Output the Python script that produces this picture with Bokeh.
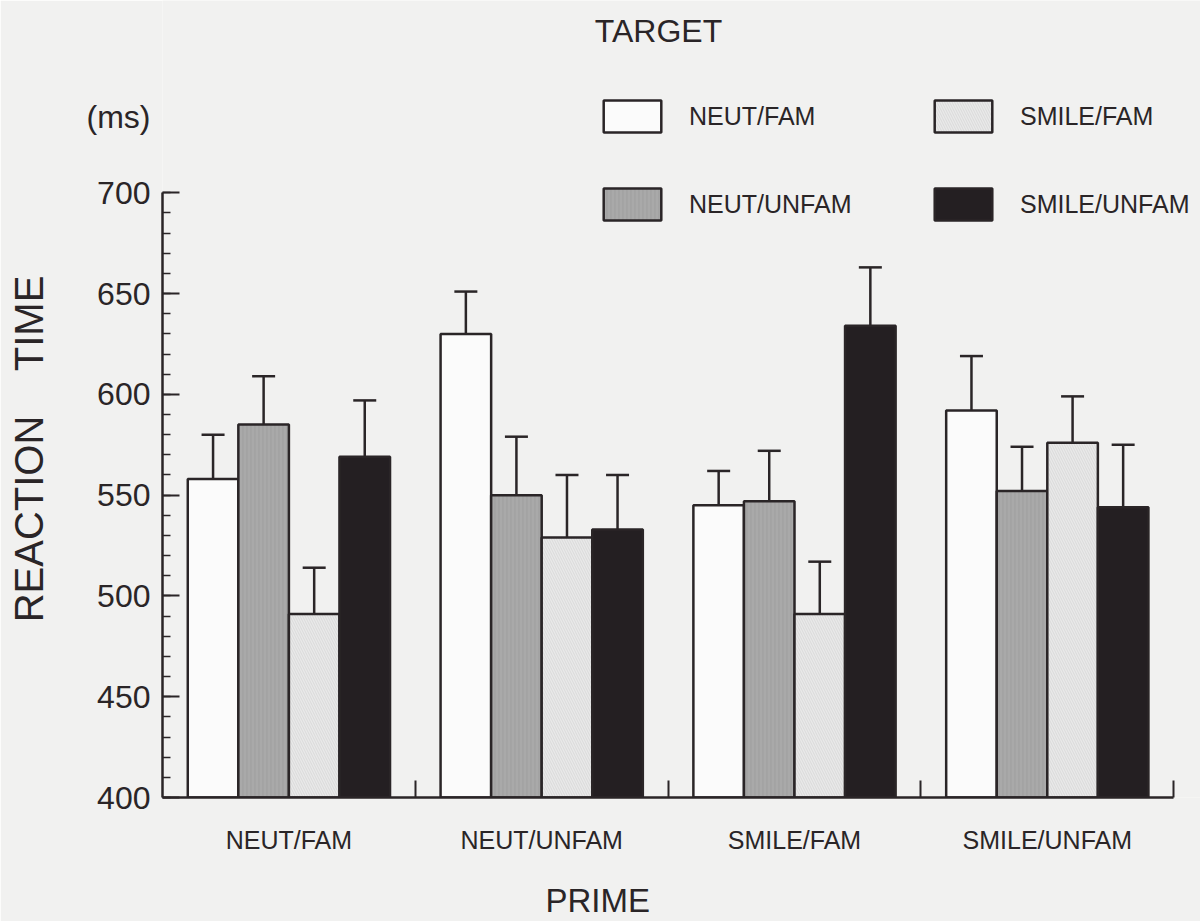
from bokeh.plotting import figure
from bokeh.models import (Range1d, FixedTicker, SingleIntervalTicker, Label, Legend,
                          LegendItem, Whisker, TeeHead, ColumnDataSource, LinearAxis,
                          CustomJSTickFormatter, Title)
from bokeh.embed import file_html
from bokeh.resources import INLINE

# ---- data ----
primes = ["NEUT/FAM", "NEUT/UNFAM", "SMILE/FAM", "SMILE/UNFAM"]
targets = ["NEUT/FAM", "NEUT/UNFAM", "SMILE/FAM", "SMILE/UNFAM"]
neut_fam = [558, 630, 545, 592]
neut_unfam = [585, 550, 547, 552]
smile_fam = [491, 529, 491, 576]
smile_unfam = [569, 533, 634, 544]
neut_fam_se = [22, 21, 17, 27]
neut_unfam_se = [24, 29, 25, 22]
smile_fam_se = [23, 31, 26, 23]
smile_unfam_se = [28, 27, 29, 31]
y_ticks = [400, 450, 500, 550, 600, 650, 700]
unit_label = "(ms)"

FONT = "Liberation Sans"
INK = "#2a2527"
PAPER = "#f1f1f0"
NBSP = "\u00a0"

p = figure(width=1200, height=921,
           x_range=Range1d(0.5, 4.606), y_range=Range1d(400, 795.4),
           output_backend="svg", toolbar_location=None,
           min_border_left=162, min_border_right=0, min_border_top=0,
           min_border_bottom=124)
p.background_fill_color = PAPER
p.border_fill_color = PAPER
p.outline_line_color = None
p.xgrid.visible = False
p.ygrid.visible = False

series = [
    (neut_fam, neut_fam_se, dict(fill_color="#fbfbfb")),
    (neut_unfam, neut_unfam_se, dict(fill_color="#a9a9a9", hatch_pattern="|",
                                     hatch_color="#9a9a9a", hatch_scale=4,
                                     hatch_weight=1.2, hatch_alpha=0.6)),
    (smile_fam, smile_fam_se, dict(fill_color="#e9e9e9", hatch_pattern="\\",
                                   hatch_color="#c4c4c4", hatch_scale=5,
                                   hatch_weight=0.6, hatch_alpha=0.7)),
    (smile_unfam, smile_unfam_se, dict(fill_color="#241f22")),
]
offsets = [-0.3, -0.1, 0.1, 0.3]
width = 0.2

renderers = []
wx, wlo, whi = [], [], []
for (vals, se, style), off in zip(series, offsets):
    xs = [i + 1 + off for i in range(len(primes))]
    src = ColumnDataSource(dict(x=xs, top=vals))
    r = p.vbar(x="x", top="top", bottom=400, width=width, source=src,
               line_color=INK, line_width=2.5, **style)
    renderers.append(r)
    wx += xs
    wlo += vals
    whi += [v + e for v, e in zip(vals, se)]

wsrc = ColumnDataSource(dict(x=wx, lower=wlo, upper=whi))
p.add_layout(Whisker(source=wsrc, base="x", lower="lower", upper="upper",
                     line_color=INK, line_width=2.5,
                     upper_head=TeeHead(size=23, line_color=INK, line_width=2.5),
                     lower_head=None))

# ---- x axis ----
xa = p.xaxis[0]
xa.ticker = FixedTicker(ticks=[1, 2, 3, 4], minor_ticks=[1.5, 2.5, 3.5, 4.5])
xa.bounds = (0.5, 4.5)
xa.major_label_overrides = {i + 1: name for i, name in enumerate(primes)}
xa.major_tick_in = 0
xa.major_tick_out = 0
xa.minor_tick_in = 17
xa.minor_tick_out = 0
xa.minor_tick_line_color = INK
xa.minor_tick_line_width = 2
xa.axis_line_color = INK
xa.axis_line_width = 2.5
xa.major_label_text_font = FONT
xa.major_label_text_font_size = "25px"
xa.major_label_text_color = INK
xa.major_label_standoff = 28

# empty x axis used as a spacer before the "PRIME" title
xc = LinearAxis(ticker=FixedTicker(ticks=[]),
                axis_line_color=None, major_tick_line_color=None,
                minor_tick_line_color=None, major_tick_in=0, major_tick_out=0,
                minor_tick_in=0, minor_tick_out=0, major_label_standoff=0,
                axis_label=NBSP, axis_label_standoff=16,
                axis_label_text_font_size="2px", axis_label_text_color=PAPER)
p.add_layout(xc, "below")
p.add_layout(Title(text="PRIME", align="left", offset=383, vertical_align="bottom",
                   standoff=4, text_font=FONT, text_font_size="33px",
                   text_color=INK, text_font_style="normal"), "below")

# ---- y axis: line and ticks (no labels) ----
ya = p.yaxis[0]
ya.ticker = SingleIntervalTicker(interval=50, num_minor_ticks=5)
ya.bounds = (y_ticks[0], y_ticks[-1])
ya.formatter = CustomJSTickFormatter(code="return ''")
ya.major_label_standoff = 0
ya.major_tick_in = 17
ya.major_tick_out = 0
ya.minor_tick_in = 8
ya.minor_tick_out = 0
ya.major_tick_line_color = INK
ya.minor_tick_line_color = INK
ya.major_tick_line_width = 2
ya.minor_tick_line_width = 1.5
ya.axis_line_color = INK
ya.axis_line_width = 2.5

# ---- y axis labels (numbers + unit) and "REACTION TIME" ----
unit_pos = 737.8
yb = LinearAxis(ticker=FixedTicker(ticks=y_ticks + [unit_pos]),
                bounds=(400, 748.2),
                major_label_overrides={unit_pos: unit_label},
                axis_line_color=None, major_tick_line_color=None,
                minor_tick_line_color=None, major_tick_in=0, major_tick_out=0,
                minor_tick_in=0, minor_tick_out=0,
                major_label_text_font=FONT, major_label_text_font_size="32px",
                major_label_text_color=INK, major_label_standoff=12,
                axis_label="REACTION" + NBSP * 4 + "TIME" + NBSP * 9,
                axis_label_standoff=33,
                axis_label_text_font=FONT, axis_label_text_font_size="40px",
                axis_label_text_font_style="normal", axis_label_text_color=INK)
p.add_layout(yb, "left")

p.add_layout(Label(x=496, y=767, x_units="screen", y_units="screen", text="TARGET",
                   text_align="center", text_baseline="middle", text_font=FONT,
                   text_font_size="32px", text_color=INK))

# ---- legends (two columns) ----
common = dict(orientation="vertical", spacing=48, padding=0, margin=0,
              glyph_width=72, glyph_height=40, label_standoff=21,
              label_text_font=FONT, label_text_font_size="25px",
              label_text_color=INK, border_line_alpha=0,
              background_fill_alpha=0)
leg1 = Legend(items=[LegendItem(label=targets[0], renderers=[renderers[0]]),
                     LegendItem(label=targets[1], renderers=[renderers[1]])],
              location=(434, 573), **common)
leg2 = Legend(items=[LegendItem(label=targets[2], renderers=[renderers[2]]),
                     LegendItem(label=targets[3], renderers=[renderers[3]])],
              location=(765, 573), **common)
p.add_layout(leg1)
p.add_layout(leg2)

open("out.html", "w").write(file_html(p, INLINE))
